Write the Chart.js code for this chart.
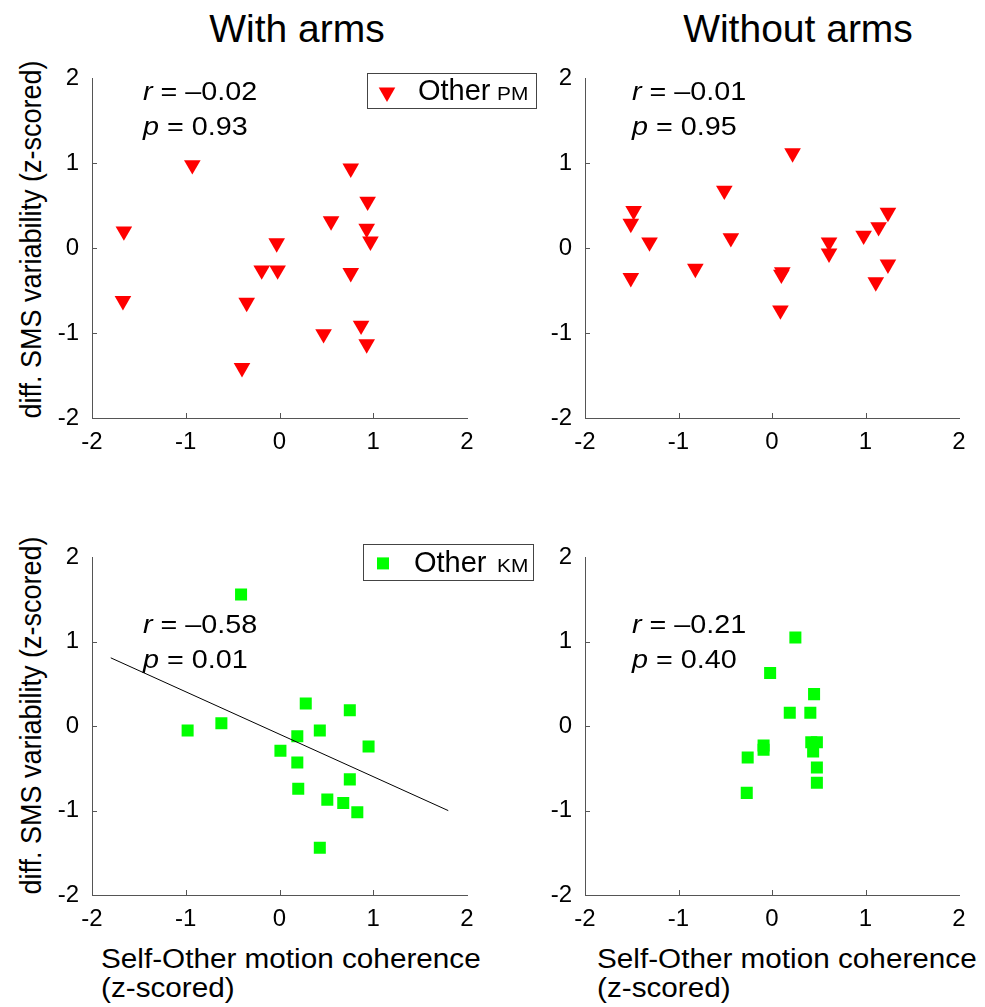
<!DOCTYPE html>
<html>
<head>
<meta charset="utf-8">
<script src="https://cdn.jsdelivr.net/npm/chart.js@4.4.1/dist/chart.umd.min.js"></script>
<style>
body { margin: 0; background: #fff; }
#page { position: relative; width: 985px; height: 1007px; font-family: 'Liberation Sans', Arial, sans-serif; color: #000; overflow: hidden; }
canvas { position: absolute; }
.title { position: absolute; top: 9px; font-size: 39px; line-height: 39px; white-space: nowrap; transform: translateX(-50%); }
.ylab { position: absolute; left: -168px; width: 400px; height: 27px; font-size: 27px; line-height: 27px; text-align: center; white-space: nowrap; transform: rotate(-90deg) scaleY(1.1); }
.xlab { position: absolute; top: 945px; font-size: 27px; line-height: 29px; white-space: nowrap; transform-origin: 0 0; transform: scaleX(1.1); }
</style>
</head>
<body>
<div id="page">
  <div class="title" style="left:297px">With arms</div>
  <div class="title" style="left:798px">Without arms</div>
  <div class="ylab" style="top:226px">diff. SMS variability (z-scored)</div>
  <div class="ylab" style="top:702px">diff. SMS variability (z-scored)</div>
  <div class="xlab" style="left:101px">Self-Other motion coherence<br>(z-scored)</div>
  <div class="xlab" style="left:597px">Self-Other motion coherence<br>(z-scored)</div>
  <canvas id="tl" width="490" height="399" style="left:52px;top:59px"></canvas>
  <canvas id="tr" width="440" height="399" style="left:545px;top:59px"></canvas>
  <canvas id="bl" width="490" height="397" style="left:52px;top:538px"></canvas>
  <canvas id="br" width="440" height="397" style="left:545px;top:538px"></canvas>
</div>
<script>
const FONT = "'Liberation Sans', Arial, sans-serif";
const AXIS_COLOR = '#555';

// axis ticks (both axes, all panels)
const tickValues = [-2, -1, 0, 1, 2];

// With arms, Other PM (red triangles)
const armsPmX = [-1.66, -1.67, -0.93, -0.03, -0.19, -0.02, -0.35, -0.40, 0.55, 0.76, 0.94, 0.93, 0.97, 0.76, 0.47, 0.87, 0.93];
const armsPmY = [0.20, -0.62, 0.98, 0.06, -0.26, -0.26, -0.64, -1.41, 0.32, 0.94, 0.55, 0.23, 0.08, -0.29, -1.01, -0.91, -1.13];

// Without arms, Other PM
const noArmsPmX = [-1.48, -1.51, -1.31, -1.51, -0.82, -0.51, -0.44, 0.22, 0.11, 0.10, 0.09, 0.61, 0.61, 0.98, 1.14, 1.24, 1.24, 1.11];
const noArmsPmY = [0.44, 0.29, 0.07, -0.35, -0.24, 0.68, 0.12, 1.12, -0.28, -0.31, -0.73, 0.07, -0.06, 0.15, 0.25, 0.42, -0.19, -0.40];

// With arms, Other KM (green squares)
const armsKmX = [-0.41, -0.98, -0.62, 0.28, 0.75, 0.43, 0.19, 0.01, 0.19, 0.95, 0.75, 0.20, 0.51, 0.68, 0.83, 0.43];
const armsKmY = [1.56, -0.05, 0.035, 0.27, 0.19, -0.05, -0.12, -0.29, -0.43, -0.24, -0.63, -0.74, -0.87, -0.91, -1.02, -1.44];

// regression line, with arms KM
const fitX = [-1.8, 1.8];
const fitY = [0.81, -1.0];

// Without arms, Other KM
const noArmsKmX = [0.25, -0.02, 0.45, 0.19, 0.41, 0.42, 0.48, 0.44, 0.48, 0.48, -0.09, -0.09, -0.26, -0.27];
const noArmsKmY = [1.05, 0.63, 0.38, 0.16, 0.16, -0.19, -0.19, -0.30, -0.49, -0.67, -0.23, -0.28, -0.37, -0.79];

// stats text per panel: [r, p]
const statsTL = ['\u20130.02', '0.93'];
const statsTR = ['\u20130.01', '0.95'];
const statsBL = ['\u20130.58', '0.01'];
const statsBR = ['\u20130.21', '0.40'];

function toPoints(xs, ys) {
    return xs.map((x, i) => ({ x: x, y: ys[i] }));
}

function drawParts(ctx, parts, x, y, sx) {
    ctx.save();
    ctx.translate(x, y);
    ctx.scale(sx, 1);
    ctx.fillStyle = '#000';
    ctx.textBaseline = 'alphabetic';
    ctx.textAlign = 'left';
    let cx = 0;
    parts.forEach(p => {
        ctx.font = (p.italic ? 'italic ' : '') + p.size + 'px ' + FONT;
        ctx.fillText(p.text, cx, 0);
        cx += ctx.measureText(p.text).width;
    });
    ctx.restore();
}

const panelDecor = {
    id: 'panelDecor',
    afterDraw(chart, args, opts) {
        const { ctx, chartArea, scales } = chart;
        ctx.save();
        // inward tick marks
        ctx.strokeStyle = AXIS_COLOR;
        ctx.lineWidth = 1;
        ctx.beginPath();
        tickValues.slice(1, -1).forEach(v => {
            const px = Math.round(scales.x.getPixelForValue(v)) + 0.5;
            ctx.moveTo(px, chartArea.bottom);
            ctx.lineTo(px, chartArea.bottom - 5);
            const py = Math.round(scales.y.getPixelForValue(v)) + 0.5;
            ctx.moveTo(chartArea.left, py);
            ctx.lineTo(chartArea.left + 5, py);
        });
        ctx.stroke();

        // r / p text
        const sx = chartArea.left + opts.statX;
        drawParts(ctx, [{ text: 'r', italic: true, size: 25 }, { text: ' = ' + opts.stats[0], size: 25 }],
            sx, chartArea.top + opts.statY, 1.15);
        drawParts(ctx, [{ text: 'p', italic: true, size: 25 }, { text: ' = ' + opts.stats[1], size: 25 }],
            sx, chartArea.top + opts.statY + 35, 1.15);

        // legend box
        if (opts.legend) {
            const lg = opts.legend;
            const bx = chartArea.left + lg.x, by = chartArea.top + lg.y;
            ctx.fillStyle = '#fff';
            ctx.fillRect(bx, by, lg.w, lg.h);
            ctx.strokeStyle = '#444';
            ctx.lineWidth = 1;
            ctx.strokeRect(Math.round(bx) + 0.5, Math.round(by) + 0.5, lg.w, lg.h);
            ctx.fillStyle = lg.color;
            Chart.helpers.drawPoint(ctx, { pointStyle: lg.style, rotation: lg.rotation, radius: lg.radius, borderWidth: 0 },
                bx + lg.mx, by + lg.my);
            drawParts(ctx, [{ text: 'Other', size: 29 }], bx + lg.tx, by + lg.ty, 1);
            drawParts(ctx, [{ text: lg.sub, size: 19 }], bx + lg.sx, by + lg.ty, 1.1);
        }
        ctx.restore();
    }
};

function axisOpts(fitSize, isX) {
    return {
        type: 'linear',
        min: -2,
        max: 2,
        afterBuildTicks: (scale) => { scale.ticks = tickValues.map(v => ({ value: v })); },
        afterFit: (scale) => { if (isX) scale.height = fitSize; else scale.width = fitSize; },
        ticks: {
            color: '#000',
            font: { family: FONT, size: 24 },
            padding: isX ? 2 : 5,
            maxRotation: 0,
            autoSkip: false
        },
        grid: { display: false },
        border: { display: true, color: AXIS_COLOR, width: 1 }
    };
}

function makePanel(id, datasets, padRight, decor) {
    new Chart(document.getElementById(id), {
        type: 'scatter',
        data: { datasets: datasets },
        options: {
            responsive: false,
            animation: false,
            devicePixelRatio: 1,
            layout: { padding: { top: 15, right: padRight, left: 0, bottom: 0 } },
            scales: { x: axisOpts(40, true), y: axisOpts(40, false) },
            plugins: {
                legend: { display: false },
                tooltip: { enabled: false },
                panelDecor: decor
            }
        },
        plugins: [panelDecor]
    });
}

function pmSet(xs, ys) {
    return {
        data: toPoints(xs, ys),
        pointStyle: 'triangle',
        rotation: 180,
        radius: 9.6,
        backgroundColor: '#ff0000',
        borderWidth: 0
    };
}

function kmSet(xs, ys) {
    return {
        data: toPoints(xs, ys),
        pointStyle: 'rect',
        radius: 8.5,
        backgroundColor: '#00ff00',
        borderWidth: 0
    };
}

makePanel('tl', [pmSet(armsPmX, armsPmY)], 75, {
    stats: statsTL, statX: 51, statY: 22,
    legend: { x: 275, y: -5, w: 169, h: 35, mx: 20, my: 19, tx: 51, sx: 130, ty: 27,
        color: '#ff0000', style: 'triangle', rotation: 180, radius: 9.6, sub: 'PM' }
});
makePanel('tr', [pmSet(noArmsPmX, noArmsPmY)], 26, { stats: statsTR, statX: 47, statY: 22 });
makePanel('bl', [
    {
        data: toPoints(fitX, fitY),
        showLine: true,
        borderColor: '#000',
        borderWidth: 1,
        pointRadius: 0
    },
    kmSet(armsKmX, armsKmY)
], 75, {
    stats: statsBL, statX: 51, statY: 76,
    legend: { x: 271, y: -13, w: 170, h: 36, mx: 20, my: 19, tx: 51, sx: 134, ty: 28,
        color: '#00ff00', style: 'rect', rotation: 0, radius: 8.5, sub: 'KM' }
});
makePanel('br', [kmSet(noArmsKmX, noArmsKmY)], 26, { stats: statsBR, statX: 47, statY: 76 });
</script>
</body>
</html>
